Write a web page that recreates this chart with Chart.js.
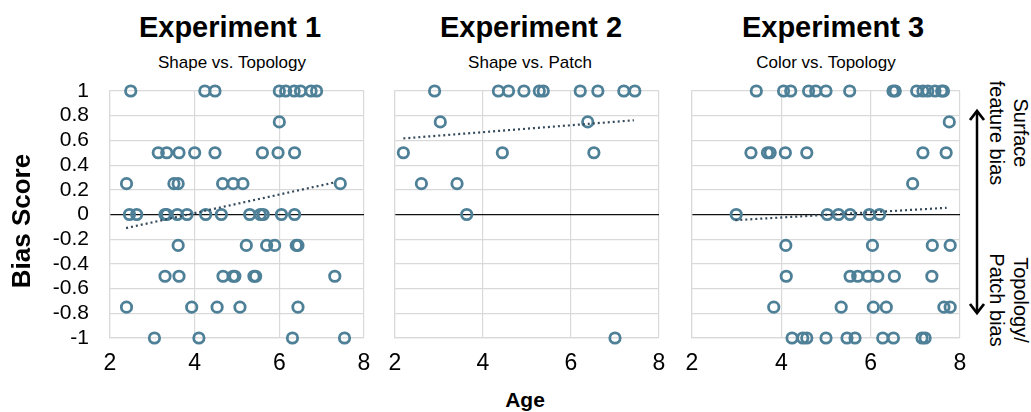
<!DOCTYPE html>
<html>
<head>
<meta charset="utf-8">
<script src="https://cdn.jsdelivr.net/npm/chart.js@4"></script>
<style>
  html, body { margin: 0; padding: 0; background: #fff; }
  body { width: 1031px; height: 412px; position: relative; overflow: hidden;
         font-family: "Liberation Sans", Arial, Helvetica, sans-serif; color: #000; }
  .panel { position: absolute; }
  .txt { position: absolute; white-space: nowrap; line-height: 1; }
  .title { font-size: 29px; font-weight: bold; top: 13.2px; transform: translateX(-50%); }
  .sub { font-size: 17px; top: 54px; transform: translateX(-50%); }
</style>
</head>
<body>
<div class="panel" id="p1" style="left:0px; top:80px; width:372px; height:300px;"><canvas id="c1"></canvas></div>
<div class="panel" id="p2" style="left:380px; top:80px; width:287px; height:300px;"><canvas id="c2"></canvas></div>
<div class="panel" id="p3" style="left:680px; top:80px; width:288px; height:300px;"><canvas id="c3"></canvas></div>

<div class="txt title" style="left:230px;">Experiment 1</div>
<div class="txt sub" style="left:232px;">Shape vs. Topology</div>
<div class="txt title" style="left:531px;">Experiment 2</div>
<div class="txt sub" style="left:530px;">Shape vs. Patch</div>
<div class="txt title" style="left:833px;">Experiment 3</div>
<div class="txt sub" style="left:826px;">Color vs. Topology</div>

<div class="txt" style="left:21px; top:221px; font-size:26px; font-weight:bold; transform: translate(-50%,-50%) rotate(-90deg);">Bias Score</div>
<div class="txt" style="left:525px; top:389px; font-size:21px; font-weight:bold; transform: translateX(-50%);">Age</div>

<div class="txt" style="left:1009px; top:133px; font-size:20px; line-height:24px; text-align:center; transform: translate(-50%,-50%) rotate(90deg);">Surface<br>feature bias</div>
<div class="txt" style="left:1009px; top:300px; font-size:20px; line-height:24px; text-align:center; transform: translate(-50%,-50%) rotate(90deg);">Topology/<br>Patch bias</div>

<svg style="position:absolute; left:0; top:0;" width="1031" height="412">
  <line x1="977" y1="112" x2="977" y2="312" stroke="#000" stroke-width="2.5"/>
  <polyline points="970,120 977,111 984,120" fill="none" stroke="#000" stroke-width="2.8" stroke-linejoin="miter"/>
  <polyline points="970,304 977,313 984,304" fill="none" stroke="#000" stroke-width="2.8" stroke-linejoin="miter"/>
</svg>

<script>
// ---------- Data ----------
const ageExp1  = [2.49, 4.24, 4.48, 6.0, 6.15, 6.35, 6.5, 6.75, 6.88,
                  6.0,
                  3.14, 3.34, 3.63, 4.0, 4.48, 5.6, 5.97, 6.36,
                  2.39, 3.51, 3.61, 4.66, 4.91, 5.14, 7.44,
                  2.46, 2.63, 3.30, 3.34, 3.59, 3.82, 4.26, 4.63, 5.30, 5.55, 5.62, 6.05, 6.36,
                  3.61, 5.22, 5.70, 5.89, 6.40, 6.44,
                  3.30, 3.63, 4.67, 4.91, 4.95, 5.40, 5.44, 7.31,
                  2.39, 3.93, 4.53, 5.07, 6.44,
                  3.05, 4.10, 6.31, 7.54];
const biasExp1 = [1, 1, 1, 1, 1, 1, 1, 1, 1,
                  0.75,
                  0.5, 0.5, 0.5, 0.5, 0.5, 0.5, 0.5, 0.5,
                  0.25, 0.25, 0.25, 0.25, 0.25, 0.25, 0.25,
                  0, 0, 0, 0, 0, 0, 0, 0, 0, 0, 0, 0, 0,
                  -0.25, -0.25, -0.25, -0.25, -0.25, -0.25,
                  -0.5, -0.5, -0.5, -0.5, -0.5, -0.5, -0.5, -0.5,
                  -0.75, -0.75, -0.75, -0.75, -0.75,
                  -1, -1, -1, -1];

const ageExp2  = [2.90, 4.35, 4.58, 4.93, 5.28, 5.37, 6.21, 6.61, 7.20, 7.45,
                  3.03, 6.38,
                  2.19, 4.44, 6.52,
                  2.60, 3.41,
                  3.63,
                  7.0];
const biasExp2 = [1, 1, 1, 1, 1, 1, 1, 1, 1, 1,
                  0.75, 0.75,
                  0.5, 0.5, 0.5,
                  0.25, 0.25,
                  0,
                  -1];

const ageExp3  = [3.44, 4.05, 4.21, 4.61, 4.77, 5.00, 5.53, 6.50, 6.55, 7.03, 7.17, 7.28, 7.44, 7.59, 7.63,
                  7.76,
                  3.32, 3.69, 3.75, 4.09, 4.57, 7.17, 7.69,
                  6.94,
                  2.99, 5.03, 5.28, 5.54, 5.97, 6.20,
                  4.10, 6.04, 7.38, 7.78,
                  4.11, 5.54, 5.71, 5.94, 6.16, 6.53, 7.37,
                  3.83, 5.34, 6.06, 6.35, 7.64, 7.78,
                  4.24, 4.48, 4.57, 5.00, 5.47, 5.65, 6.27, 6.51, 7.15, 7.22];
const biasExp3 = [1, 1, 1, 1, 1, 1, 1, 1, 1, 1, 1, 1, 1, 1, 1,
                  0.75,
                  0.5, 0.5, 0.5, 0.5, 0.5, 0.5, 0.5,
                  0.25,
                  0, 0, 0, 0, 0, 0,
                  -0.25, -0.25, -0.25, -0.25,
                  -0.5, -0.5, -0.5, -0.5, -0.5, -0.5, -0.5,
                  -0.75, -0.75, -0.75, -0.75, -0.75, -0.75,
                  -1, -1, -1, -1, -1, -1, -1, -1, -1, -1];

// Dotted trend lines (end points)
const trendAge1 = [2.38, 7.31];  const trendBias1 = [-0.11, 0.26];
const trendAge2 = [2.19, 7.43];  const trendBias2 = [0.616, 0.763];
const trendAge3 = [2.97, 7.70];  const trendBias3 = [-0.046, 0.054];

// Axis ticks
const ageTicks  = [2, 4, 6, 8];
const biasMin = -1, biasMax = 1, biasStep = 0.2;

// ---------- Styling ----------
const FONT = '"Liberation Sans", Arial, Helvetica, sans-serif';
const MARKER = '#4e8098';
const TREND = '#34495a';
const GRID = '#d9d9d9';

function pts(xs, ys) { return xs.map((x, i) => ({ x: x, y: ys[i] })); }

function makeChart(id, xs, ys, tx, ty, showY, yAxisWidth, padRight) {
  const ctx = document.getElementById(id);
  return new Chart(ctx, {
    type: 'scatter',
    data: {
      datasets: [
        {
          data: pts(tx, ty),
          showLine: true,
          borderColor: TREND,
          borderWidth: 2.2,
          borderDash: [2, 3],
          pointRadius: 0,
          fill: false,
          clip: false
        },
        {
          data: pts(xs, ys),
          pointStyle: 'circle',
          pointRadius: 5.2,
          pointBorderWidth: 2.8,
          pointBackgroundColor: 'rgba(255,255,255,0)',
          pointBorderColor: MARKER,
          clip: false
        }
      ]
    },
    options: {
      responsive: true,
      maintainAspectRatio: false,
      animation: false,
      events: [],
      layout: { padding: { top: 11, right: padRight, left: 0, bottom: 0 } },
      plugins: { legend: { display: false }, tooltip: { enabled: false } },
      scales: {
        x: {
          type: 'linear',
          min: ageTicks[0],
          max: ageTicks[ageTicks.length - 1],
          afterBuildTicks: (s) => { s.ticks = ageTicks.map(v => ({ value: v })); },
          afterFit: (s) => { s.height = 42; s.paddingLeft = 0; s.paddingRight = 0; },
          grid: { color: GRID, lineWidth: 1.2, drawTicks: false },
          border: { color: GRID, width: 1.2 },
          ticks: {
            autoSkip: false, maxRotation: 0, padding: 12,
            color: '#000', font: { family: FONT, size: 23 }
          }
        },
        y: {
          type: 'linear',
          min: biasMin,
          max: biasMax,
          afterFit: (s) => { s.width = yAxisWidth; s.paddingTop = 0; s.paddingBottom = 0; },
          grid: {
            drawTicks: false,
            color: (c) => (c.tick && Math.abs(c.tick.value) < 1e-9) ? '#111' : GRID,
            lineWidth: (c) => (c.tick && Math.abs(c.tick.value) < 1e-9) ? 1.3 : 1.2
          },
          border: { color: GRID, width: 1.2 },
          ticks: {
            display: showY,
            stepSize: biasStep,
            autoSkip: false,
            padding: 21,
            color: '#000',
            font: { family: FONT, size: 21 },
            callback: (v) => String(Math.round(v * 10) / 10)
          }
        }
      }
    }
  });
}

makeChart('c1', ageExp1, biasExp1, trendAge1, trendBias1, true, 110, 8);
makeChart('c2', ageExp2, biasExp2, trendAge2, trendBias2, false, 15, 8);
makeChart('c3', ageExp3, biasExp3, trendAge3, trendBias3, false, 12, 8);
</script>
</body>
</html>
